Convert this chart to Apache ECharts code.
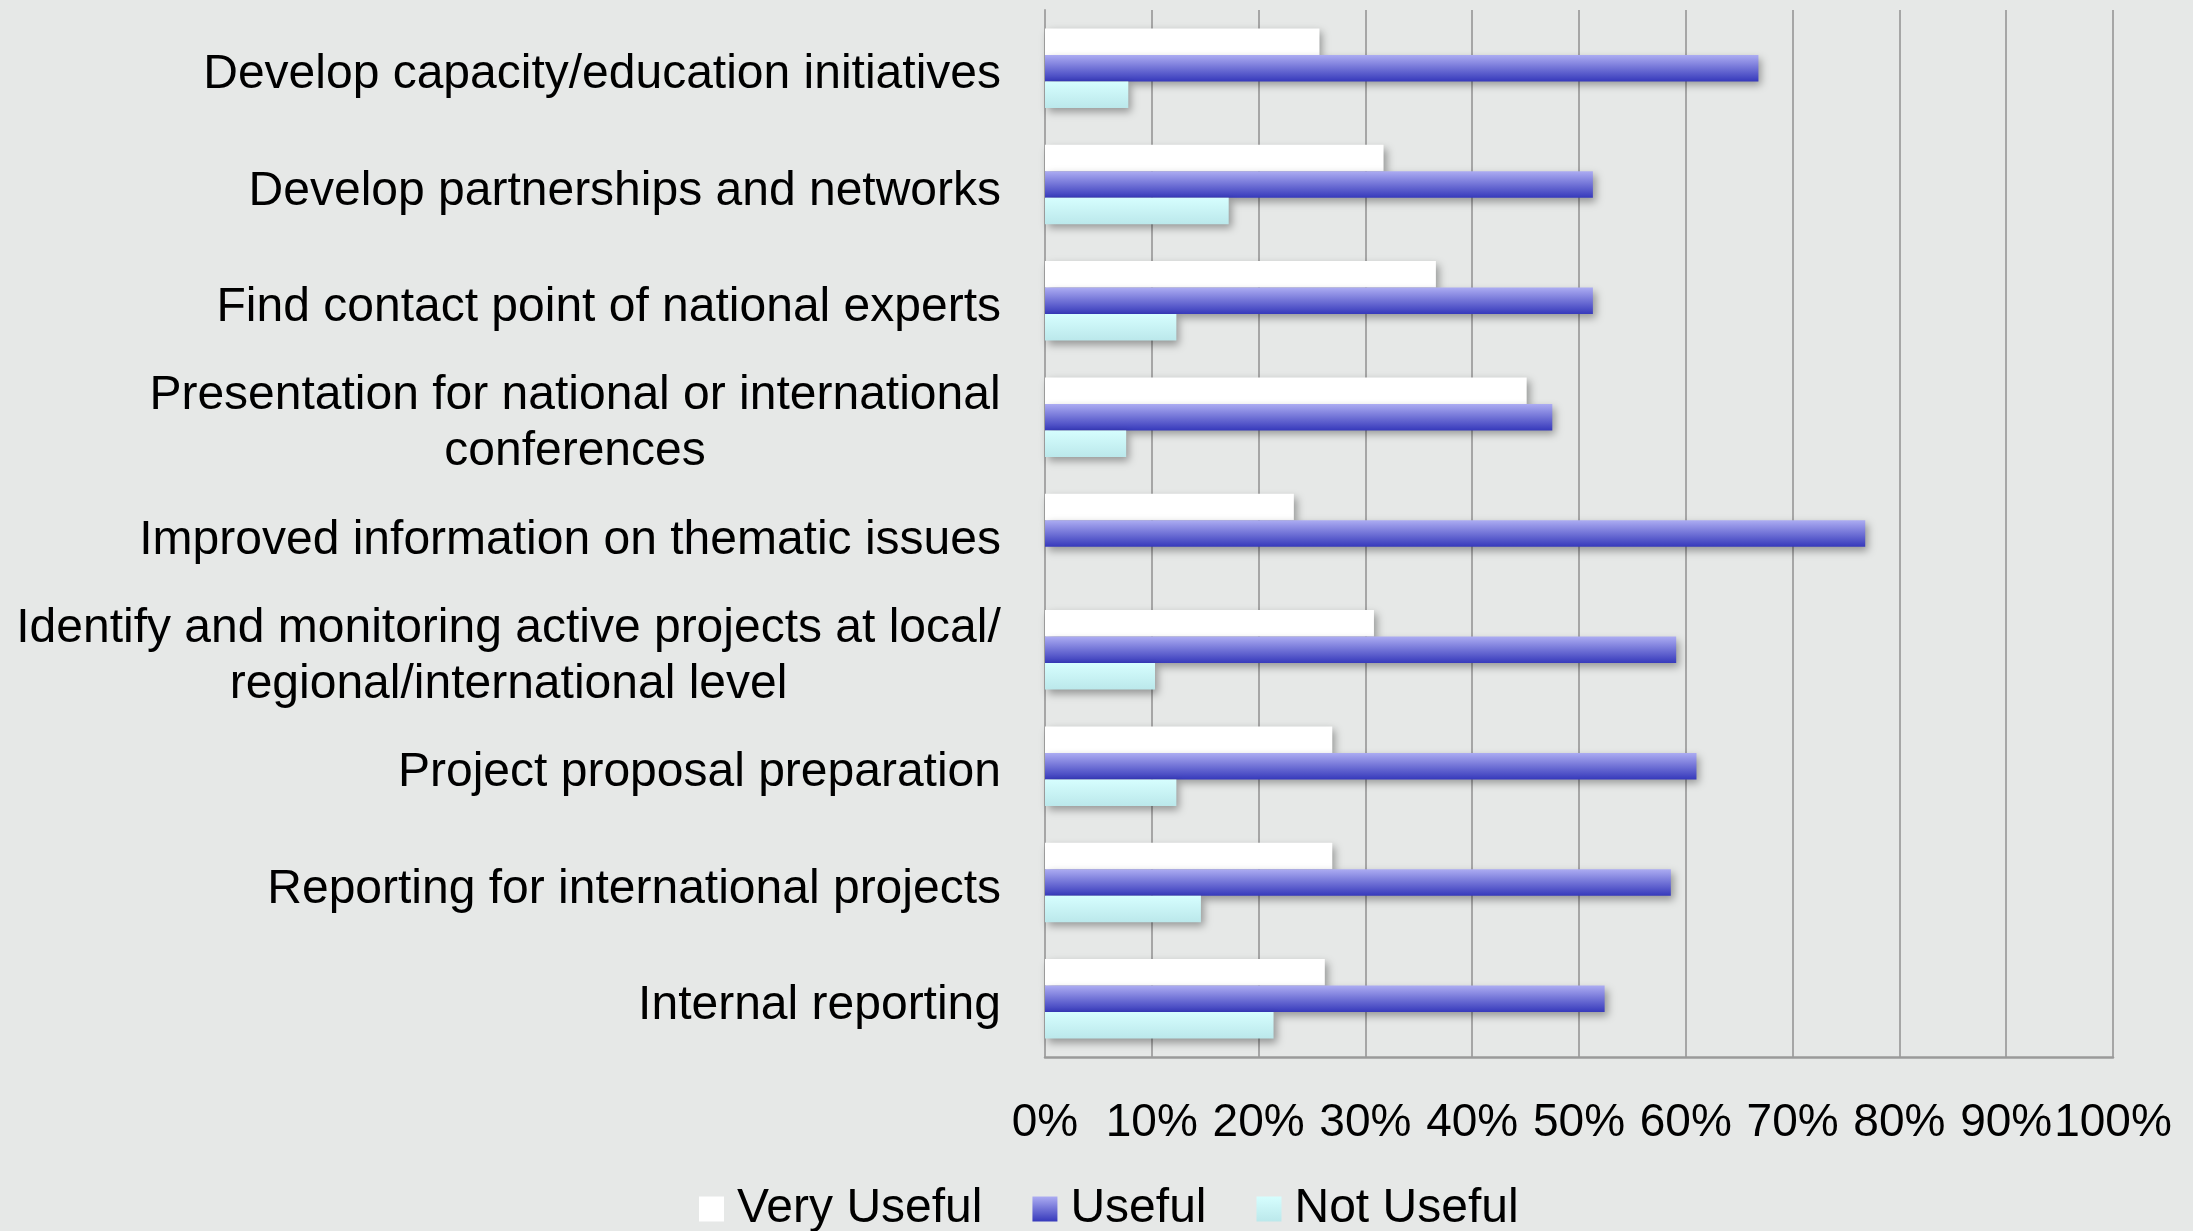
<!DOCTYPE html>
<html>
<head>
<meta charset="utf-8">
<script src="https://cdn.jsdelivr.net/npm/echarts@6/dist/echarts.min.js"></script>
<style>
html,body{margin:0;padding:0;background:#e6e8e7;}
#chart{width:2193px;height:1231px;}
</style>
</head>
<body>
<div id="chart"></div>
<script>
const categories = [
  "Develop capacity/education initiatives",
  "Develop partnerships and networks",
  "Find contact point of national experts",
  "Presentation for national or international\nconferences",
  "Improved information on thematic issues",
  "Identify and monitoring active projects at local/\nregional/international level",
  "Project proposal preparation",
  "Reporting for international projects",
  "Internal reporting"
];
const seriesNames = ["Very Useful", "Useful", "Not Useful"];
const veryUseful = [25.7, 31.7, 36.6, 45.1, 23.3, 30.8, 26.9, 26.9, 26.2];
const useful     = [66.8, 51.3, 51.3, 47.5, 76.8, 59.1, 61.0, 58.6, 52.4];
const notUseful  = [7.8, 17.2, 12.3, 7.6, 0, 10.3, 12.3, 14.6, 21.4];
const xTicks = [0, 10, 20, 30, 40, 50, 60, 70, 80, 90, 100];

const FONT = '"Liberation Sans", Arial, Helvetica, sans-serif';
const FS = 48;

const ctx = document.createElement('canvas').getContext('2d');
ctx.font = FS + 'px ' + FONT;

// Multi-line labels: centered lines inside a right-aligned block
const catData = categories.map(function (c) {
  if (c.indexOf('\n') < 0) return c;
  const lines = c.split('\n');
  const w = Math.ceil(Math.max.apply(null, lines.map(function (l) { return ctx.measureText(l).width; })));
  return {
    value: c,
    textStyle: {
      rich: { c: { width: w, align: 'center', fontSize: FS, fontFamily: FONT, color: '#000', lineHeight: 56 } }
    }
  };
});

const chart = echarts.init(document.getElementById('chart'), null, { renderer: 'canvas' });

const shadow = { shadowColor: 'rgba(0,0,0,0.35)', shadowBlur: 8, shadowOffsetX: 3, shadowOffsetY: 4 };

chart.setOption({
  backgroundColor: '#e6e8e7',
  animation: false,
  textStyle: { fontFamily: FONT },
  grid: { left: 1045, right: 80, top: 10, bottom: 174, containLabel: false },
  legend: {
    data: seriesNames,
    bottom: -7,
    left: 694,
    itemWidth: 25,
    itemHeight: 25,
    itemGap: 50,
    textStyle: { fontSize: 48, fontFamily: FONT, color: '#000', padding: [0, 0, 0, 8] },
    icon: 'rect'
  },
  xAxis: {
    type: 'value',
    min: xTicks[0],
    max: xTicks[xTicks.length - 1],
    interval: 10,
    axisLine: { show: true, lineStyle: { color: '#9a9a9a', width: 2.5 } },
    axisTick: { show: false },
    axisLabel: {
      formatter: '{value}%', fontSize: 46, fontFamily: FONT, color: '#000', margin: 43,
      showMinLabel: true, showMaxLabel: true, hideOverlap: false
    },
    splitLine: { show: true, lineStyle: { color: '#a6a6a6', width: 2 } }
  },
  yAxis: {
    type: 'category',
    inverse: true,
    data: catData,
    axisLine: { show: true, lineStyle: { color: '#a6a6a6', width: 2 } },
    axisTick: { show: false },
    axisLabel: {
      fontSize: FS, fontFamily: FONT, color: '#000', margin: 44, lineHeight: 56,
      padding: [14, 0, 0, 0],
      rich: { c: { fontSize: FS, fontFamily: FONT, color: '#000', lineHeight: 56 } },
      formatter: function (v) {
        return v.split('\n').map(function (l) { return '{c|' + l + '}'; }).join('\n');
      }
    }
  },
  series: [
    {
      name: seriesNames[0], type: 'bar', data: veryUseful, barWidth: 26.5, barGap: '0%',
      itemStyle: Object.assign({ color: '#ffffff' }, shadow)
    },
    {
      name: seriesNames[1], type: 'bar', data: useful, barWidth: 26.5, barGap: '0%',
      itemStyle: Object.assign({
        color: new echarts.graphic.LinearGradient(0, 0, 0, 1, [
          { offset: 0, color: '#acacf2' },
          { offset: 1, color: '#3639bb' }
        ])
      }, shadow)
    },
    {
      name: seriesNames[2], type: 'bar', data: notUseful, barWidth: 26.5, barGap: '0%',
      itemStyle: Object.assign({
        color: new echarts.graphic.LinearGradient(0, 0, 0, 1, [
          { offset: 0, color: '#d6fefe' },
          { offset: 1, color: '#bbe8eb' }
        ])
      }, shadow)
    }
  ]
});
</script>
</body>
</html>
